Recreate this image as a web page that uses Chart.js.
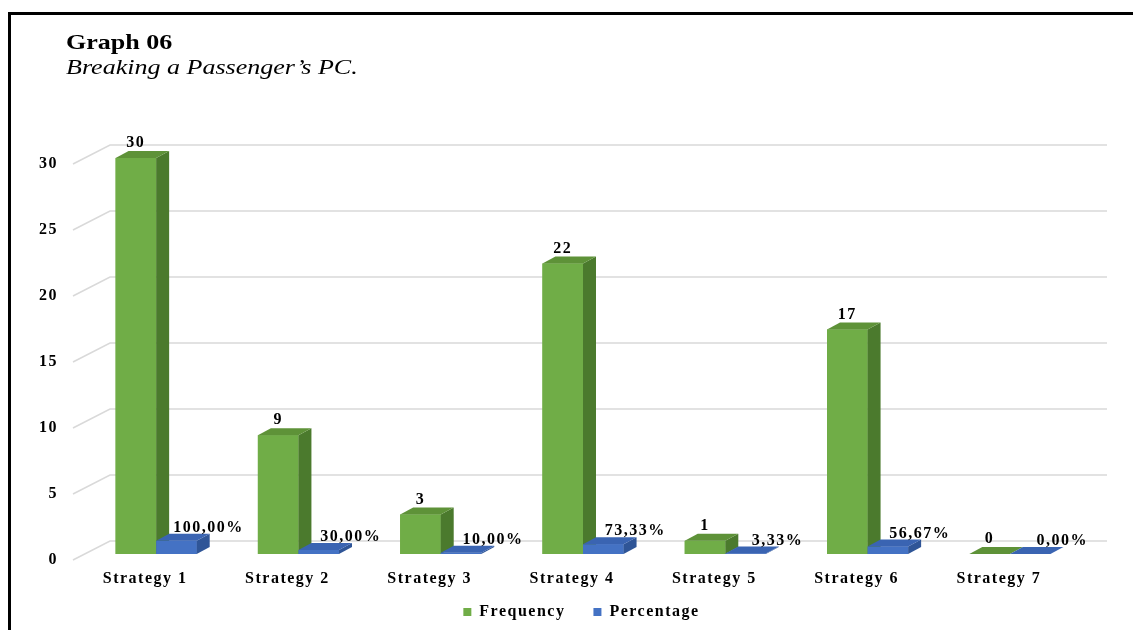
<!DOCTYPE html>
<html>
<head>
<meta charset="utf-8">
<title>Graph 06</title>
<script src="https://cdn.jsdelivr.net/npm/chart.js@4.4.0/dist/chart.umd.min.js"></script>
<style>
  html, body { margin: 0; padding: 0; background: #fff; }
  #wrap { position: relative; width: 1133px; height: 630px; overflow: hidden; }
  #frame { position: absolute; left: 8px; top: 12px; right: -10px; bottom: -10px;
           border-top: 3px solid #000; border-left: 3px solid #000; }
  .title { position: absolute; left: 66px; font-family: 'Liberation Serif', 'Times New Roman', serif;
           color: #000; white-space: nowrap; transform-origin: left top; transform: scaleX(1.24); }
  #t1 { top: 30px; font-size: 21px; line-height: 24px; font-weight: bold; }
  #t2 { top: 55px; font-size: 21px; line-height: 24px; font-style: italic; }
  canvas { position: absolute; left: 0; top: 0; }
</style>
</head>
<body>
<div id="wrap">
  <canvas id="graph06" width="1133" height="630"></canvas>
  <div id="frame"></div>
  <div class="title" id="t1">Graph 06</div>
  <div class="title" id="t2">Breaking a Passenger’s PC.</div>
</div>
<script>
const categories = ['Strategy 1', 'Strategy 2', 'Strategy 3', 'Strategy 4', 'Strategy 5', 'Strategy 6', 'Strategy 7'];
const frequency = [30, 9, 3, 22, 1, 17, 0];
const percentage = [100, 30, 10, 73.33, 3.33, 56.67, 0];
const yTicks = [0, 5, 10, 15, 20, 25, 30];

const FONT = "'Liberation Serif', 'Times New Roman', serif";

// bar depth and back-wall offsets (px)
const BAR_DX = 13, BAR_DY = -7;
const WALL_DX = 25, WALL_DY = -13;

const faces = [
  { front: '#70ad47', side: '#4b7a2d', top: '#5e9238' },
  { front: '#4472c4', side: '#2f5597', top: '#3a64b2' }
];

function fmtPct(v) {
  return v.toFixed(2).replace('.', ',') + '%';
}

function fillPoly(ctx, pts, color) {
  ctx.beginPath();
  ctx.moveTo(pts[0][0], pts[0][1]);
  for (let i = 1; i < pts.length; i++) ctx.lineTo(pts[i][0], pts[i][1]);
  ctx.closePath();
  ctx.fillStyle = color;
  ctx.fill();
}

const threeD = {
  id: 'threeD',
  beforeUpdate(chart) { chart.ctx.letterSpacing = '1.5px'; },
  afterLayout(chart) {
    // let the category labels spill below the axis box, and centre the legend under the bars
    chart.scales.x.bottom = chart.height;
    chart.legend.left += 41;
    chart.legend.right += 41;
  },
  beforeDraw(chart) { chart.ctx.letterSpacing = '1.5px'; },
  beforeDatasetsDraw(chart) {
    // back wall gridlines with the slanted floor edge
    const { ctx, chartArea, scales: { y } } = chart;
    ctx.save();
    ctx.strokeStyle = '#d9d9d9';
    ctx.lineWidth = 1.5;
    yTicks.forEach(v => {
      const yf = y.getPixelForValue(v);
      const yb = yf + WALL_DY;
      ctx.beginPath();
      ctx.moveTo(chartArea.left - 12, yf + 6);
      ctx.lineTo(chartArea.left + WALL_DX, yb);
      ctx.lineTo(chartArea.right + 26, yb);
      ctx.stroke();
    });
    ctx.restore();
  },
  afterDatasetsDraw(chart) {
    const ctx = chart.ctx;
    ctx.save();
    chart.data.datasets.forEach((ds, i) => {
      chart.getDatasetMeta(i).data.forEach(bar => {
        const { x, y, base, width } = bar.getProps(['x', 'y', 'base', 'width'], true);
        const l = x - width / 2, r = x + width / 2;
        bar.draw(ctx);
        fillPoly(ctx, [[r, y], [r + BAR_DX, y + BAR_DY], [r + BAR_DX, base + BAR_DY], [r, base]], faces[i].side);
        fillPoly(ctx, [[l, y], [l + BAR_DX, y + BAR_DY], [r + BAR_DX, y + BAR_DY], [r, y]], faces[i].top);
      });
    });

    // value labels
    ctx.font = `bold 16px ${FONT}`;
    ctx.fillStyle = '#000';
    ctx.textAlign = 'center';
    ctx.textBaseline = 'middle';
    chart.getDatasetMeta(0).data.forEach((bar, j) => {
      ctx.fillText(String(frequency[j]), bar.x, bar.y - 15);
    });
    chart.getDatasetMeta(1).data.forEach((bar, j) => {
      ctx.fillText(fmtPct(percentage[j]), bar.x + 32, bar.y - 13);
    });
    ctx.restore();
  }
};

const ctx = document.getElementById('graph06').getContext('2d');

new Chart(ctx, {
  type: 'bar',
  data: {
    labels: categories,
    datasets: [
      {
        label: 'Frequency',
        data: frequency,
        backgroundColor: faces[0].front,
        borderWidth: 0
      },
      {
        label: 'Percentage',
        data: percentage.map(p => p / 100),
        backgroundColor: faces[1].front,
        borderWidth: 0
      }
    ]
  },
  options: {
    responsive: false,
    animation: false,
    categoryPercentage: 0.57,
    barPercentage: 1,
    layout: { padding: { top: 158, right: 52, bottom: 0, left: 0 } },
    plugins: {
      legend: {
        position: 'bottom',
        labels: {
          boxWidth: 8,
          boxHeight: 8,
          padding: 28,
          color: '#000',
          font: { family: FONT, size: 16, weight: 'bold' }
        }
      },
      tooltip: { enabled: false }
    },
    scales: {
      x: {
        grid: { display: false, drawTicks: false },
        border: { display: false },
        ticks: {
          color: '#000',
          padding: 15,
          labelOffset: -11,
          font: { family: FONT, size: 16, weight: 'bold' }
        },
        afterFit(scale) { scale.height = 22; }
      },
      y: {
        min: 0,
        max: 30,
        grid: { display: false, drawTicks: false },
        border: { display: false },
        ticks: {
          stepSize: 5,
          color: '#000',
          padding: 27,
          labelOffset: 6,
          font: { family: FONT, size: 16, weight: 'bold' }
        },
        afterFit(scale) { scale.width = 85; }
      }
    }
  },
  plugins: [threeD]
});
</script>
</body>
</html>
